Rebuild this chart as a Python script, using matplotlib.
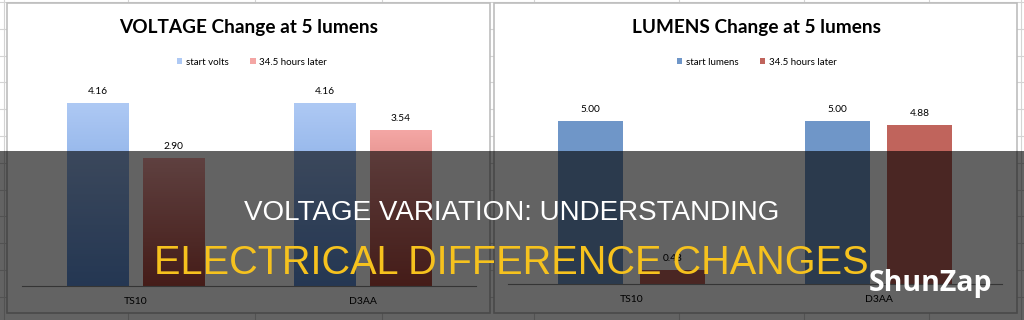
import numpy as np
import matplotlib
matplotlib.use('Agg')
import matplotlib.pyplot as plt
from matplotlib.patches import Rectangle
from matplotlib.colors import LinearSegmentedColormap

# data
categories = ['TS10', 'D3AA']
volt_title = 'VOLTAGE Change at 5 lumens'
volt_series = ['start volts', '34.5 hours later']
volt_start = [4.16, 4.16]
volt_later = [2.90, 3.54]
lum_title = 'LUMENS Change at 5 lumens'
lum_series = ['start lumens', '34.5 hours later']
lum_start = [5.00, 5.00]
lum_later = [0.43, 4.88]
banner_line1 = 'VOLTAGE VARIATION: UNDERSTANDING'
banner_line2 = 'ELECTRICAL DIFFERENCE CHANGES'
brand = 'ShunZap'

W, H = 1024, 320
fig = plt.figure(figsize=(W / 100, H / 100), dpi=100)
fig.patch.set_facecolor('white')


def px_axes(x0, y0, x1, y1):
    return fig.add_axes([x0 / W, 1 - y1 / H, (x1 - x0) / W, (y1 - y0) / H])


# spreadsheet behind the charts
bg = px_axes(0, 0, W, H)
bg.set_xlim(0, W); bg.set_ylim(H, 0); bg.axis('off')
for y in np.arange(2, H, 26.8):
    bg.axhline(y, color='#d4d4d4', lw=0.8)
for x in [4, 128, 255, 382, 534, 679, 804, 929, 1021]:
    bg.axvline(x, color='#d4d4d4', lw=0.8)
for x0, x1 in [(7, 490), (494, 1017)]:
    bg.add_patch(Rectangle((x0, 3), x1 - x0, 310, facecolor='white',
                           edgecolor='#bdbdbd', lw=1.2, zorder=3))


def gradient_bars(ax, xs, vals, width, top, bottom):
    cmap = LinearSegmentedColormap.from_list('g', [bottom, top])
    grad = np.linspace(0, 1, 64).reshape(-1, 1)
    bars = ax.bar(xs, vals, width, color=top, edgecolor='none')
    for b in bars:
        im = ax.imshow(grad, cmap=cmap, aspect='auto', origin='lower',
                       extent=[b.get_x(), b.get_x() + b.get_width(), 0, b.get_height()],
                       zorder=2)
        im.set_clip_path(b)
    return bars


def draw_chart(rect, ymax, title, tcx, series, s1, s2, width, off, colors, lcx, grad=False):
    ax = px_axes(*rect)
    x = np.arange(len(categories))
    if grad:
        b1 = gradient_bars(ax, x - off, s1, width, colors[0], colors[1])
        b2 = gradient_bars(ax, x + off, s2, width, colors[2], colors[3])
    else:
        b1 = ax.bar(x - off, s1, width, color=colors[0])
        b2 = ax.bar(x + off, s2, width, color=colors[2])
    ax.set_xlim(-0.5, len(categories) - 0.5)
    ax.set_ylim(0, ymax)
    for bars, vals in [(b1, s1), (b2, s2)]:
        for b, v in zip(bars, vals):
            ax.annotate(f'{v:.2f}', (b.get_x() + b.get_width() / 2, v),
                        xytext=(0, 7), textcoords='offset pixels',
                        ha='center', va='bottom', fontsize=7.3, family='Lato')
    for s in ['top', 'left', 'right']:
        ax.spines[s].set_visible(False)
    ax.spines['bottom'].set_color('#8a8a8a')
    ax.set_yticks([])
    ax.set_xticks(x)
    ax.set_xticklabels(categories, fontsize=7.5, family='Lato')
    ax.tick_params(axis='x', length=0, pad=8)
    ax.patch.set_alpha(0)
    fig.text(tcx / W, 1 - 28 / H, title, ha='center', va='center',
             fontsize=13.7, fontweight='bold', family='Lato')
    fig.legend([b1, b2], series, loc='center', bbox_to_anchor=(lcx / W, 1 - 62 / H),
               ncol=2, frameon=False, prop={'family': 'Lato', 'size': 7},
               handlelength=0.55, handleheight=0.55, handletextpad=0.4,
               columnspacing=2.2)
    return ax


draw_chart((22, 80, 476, 286), 206 / 44.0, volt_title, 249, volt_series,
           volt_start, volt_later, 0.269, 0.167,
           ['#aec9f4', '#5f8fd6', '#f4a6a4', '#b24a40'], 252, grad=True)
draw_chart((508, 80, 1002, 284), 204 / 32.6, lum_title, 756, lum_series,
           lum_start, lum_later, 0.263, 0.166,
           ['#6f96c8', '#6f96c8', '#c0645c', '#c0645c'], 757)

# dark banner over the lower half
ov = fig.add_axes([0, 0, 1, 1])
ov.set_xlim(0, W); ov.set_ylim(H, 0); ov.axis('off')
ov.add_patch(Rectangle((0, 151), W, H - 151, facecolor='black', alpha=0.61, lw=0))
ov.text(512, 213, banner_line1, ha='center', va='center', color='white',
        fontsize=20, family='Liberation Sans')
ov.text(511, 263, banner_line2, ha='center', va='center', color='#f6c21e',
        fontsize=28.5, family='Liberation Sans')
ov.text(931, 284, brand, ha='center', va='center', color='white',
        fontsize=20.5, fontweight='bold', family='Open Sans')

fig.savefig('out.png', dpi=100)
